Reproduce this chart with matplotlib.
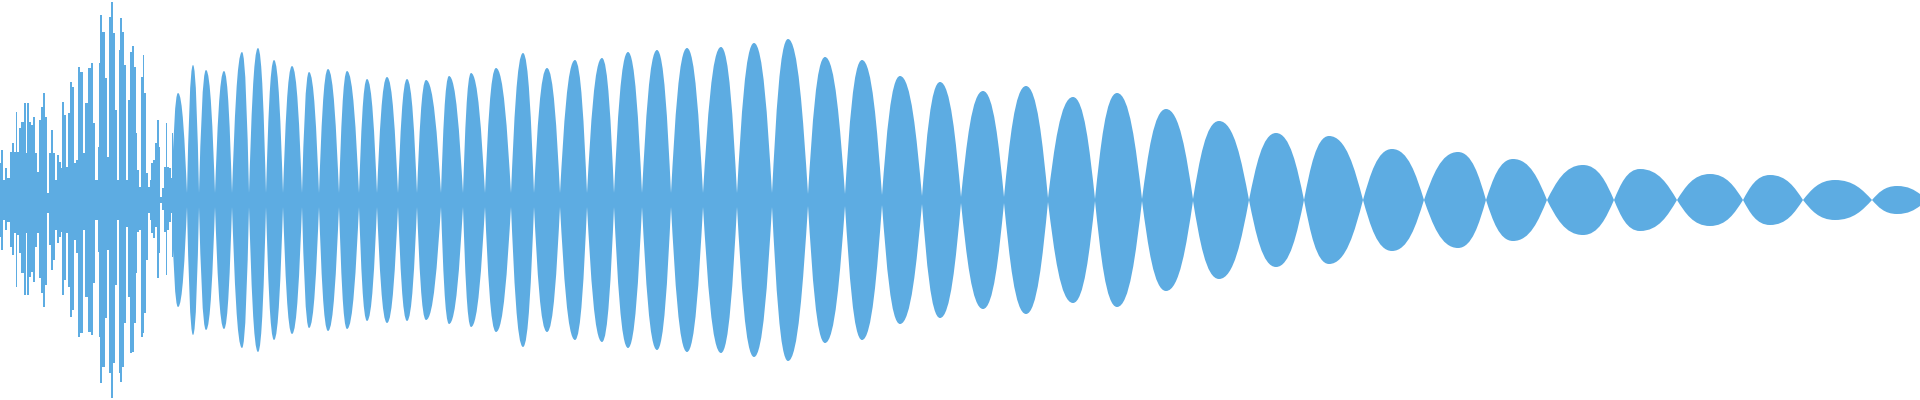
import matplotlib
matplotlib.use("Agg")
import matplotlib.pyplot as plt
from matplotlib.path import Path
from matplotlib.patches import PathPatch

WAVE_COLOR = '#5DACE2'

# attack part: thin spikes, x in px, amplitude above / below the centre line
spike_x = [0, 2, 4, 6, 8, 11, 13, 15, 16.5, 18, 20, 22, 25, 26.5, 28, 30, 32, 34, 36, 38,
           40, 42, 44, 46, 48.5, 50, 52, 54, 56, 58, 60, 61, 62.5, 64.5, 66.5, 69, 71, 73,
           75, 77, 79, 81, 84, 86.5, 89.5, 91.5, 94, 96.5, 98.5, 99.5, 101, 103.5, 105.5,
           108, 110, 111.5, 113.5, 115.5, 117.5, 119.5, 121, 122.5, 124.5, 126.5, 128.5,
           131, 133, 135, 136.5, 138, 140, 141.5, 143.5, 145, 147, 148.5, 150.5, 152,
           153.5, 155.5, 157.5, 159.5, 161, 163, 164.5, 166.5, 168, 170, 171.5, 173]
spike_top = [37, 50, 20, 32, 22, 48, 57, 48, 88, 48, 72, 78, 97, 47, 97, 78, 75, 83, 47, 28,
             80, 93, 107, 83, 7, 47, 70, 47, 20, 45, 38, 32, 98, 85, 33, 87, 118, 113,
             37, 40, 133, 128, 47, 97, 132, 137, 77, 20, 53, 137, 185, 168, 122,
             43, 183, 198, 167, 90, 20, 150, 182, 168, 135, 20, 100,
             148, 154, 133, 67, 30, 13, 123, 145, 107, 27, 13, 20, 37,
             40, 57, 80, 53, 3, 12, 33, 77, 33, 32, 22, 67]
spike_bot = [37, 50, 20, 30, 22, 47, 55, 33, 87, 35, 53, 73, 95, 33, 95, 77, 72, 82, 47, 33,
             78, 93, 107, 85, 13, 45, 70, 60, 30, 43, 37, 32, 95, 80, 33, 87, 117, 110,
             40, 53, 137, 133, 30, 97, 132, 135, 83, 20, 52, 137, 183, 167, 118,
             50, 173, 198, 163, 85, 20, 173, 182, 167, 123, 27, 97,
             153, 152, 123, 73, 32, 30, 137, 133, 113, 60, 13, 20, 33,
             38, 27, 78, 53, 3, 10, 32, 75, 30, 22, 13, 57]

# sustained part: lobes between nodes (px), node and peak amplitudes
node_x = [172, 187, 199, 215, 232, 249, 266, 283, 302, 319, 339, 359, 377, 398, 417, 441,
          463, 485, 511, 534, 560, 587, 614, 642, 671, 703, 737, 772, 808, 845, 882, 922,
          961, 1004, 1048, 1095, 1142, 1193, 1249, 1304, 1363, 1424, 1486, 1547, 1614,
          1677, 1743, 1803, 1872, 1920]
node_amp = [20, 7, 7, 7, 7, 7, 7, 7, 7, 7, 7, 7, 7, 7, 7, 7,
            7, 7, 7, 7, 7, 7, 7, 7, 7, 7, 7, 7, 6, 6, 5, 4,
            3, 3, 2, 1, 1, 1, 0, 0, 0, 0, 0, 0, 0,
            0, 0, 0, 0, 6]
peak_x = [178, 193, 206, 224, 242, 258, 274, 292, 309, 328, 347, 367, 387, 407, 426, 449,
          471, 496, 523, 547, 575, 602, 628, 657, 687, 721, 754, 788, 825, 862, 900, 940,
          983, 1026, 1073, 1117, 1166, 1219, 1276, 1329, 1392, 1458, 1513, 1583, 1640,
          1710, 1770, 1835, 1897]
peak_amp = [107, 135, 130, 129, 148, 152, 140, 134, 128, 131, 129, 121, 123, 121, 120, 124,
            127, 132, 147, 132, 140, 142, 148, 150, 152, 153, 157, 161, 143, 140, 124, 118,
            109, 114, 103, 107, 91, 79, 67, 64, 51, 48, 41, 35, 31,
            26, 25, 20, 14]

# cubic control points of a half lobe (fractions of width / height)
CA, CB, CG = 0.25, 0.5, 0.5


def lobe_path(x0, n0, xp, a, x1, n1):
    l0, l1 = xp - x0, x1 - xp
    up = [(x0, n0),
          (x0 + CA * l0, n0 + CB * (a - n0)), (x0 + CG * l0, a), (xp, a),
          (x1 - CG * l1, a), (x1 - CA * l1, n1 + CB * (a - n1)), (x1, n1)]
    down = [(x, -y) for x, y in reversed(up)]
    verts = up + down + [up[0]]
    codes = ([Path.MOVETO] + [Path.CURVE4] * 6 + [Path.LINETO] + [Path.CURVE4] * 6
             + [Path.CLOSEPOLY])
    return Path(verts, codes)


fig = plt.figure(figsize=(19.2, 4), dpi=100)
ax = fig.add_axes([0, 0, 1, 1])
ax.set_xlim(0, 1920)
ax.set_ylim(-200, 200)
ax.axis('off')

ax.fill_between(spike_x, [-b for b in spike_bot], spike_top, step='mid',
                color=WAVE_COLOR, linewidth=0)

for i in range(len(peak_x)):
    p = lobe_path(node_x[i], node_amp[i], peak_x[i], peak_amp[i],
                  node_x[i + 1], node_amp[i + 1])
    ax.add_patch(PathPatch(p, facecolor=WAVE_COLOR, edgecolor='none', linewidth=0))

fig.savefig('out.png', dpi=100, facecolor='white')
